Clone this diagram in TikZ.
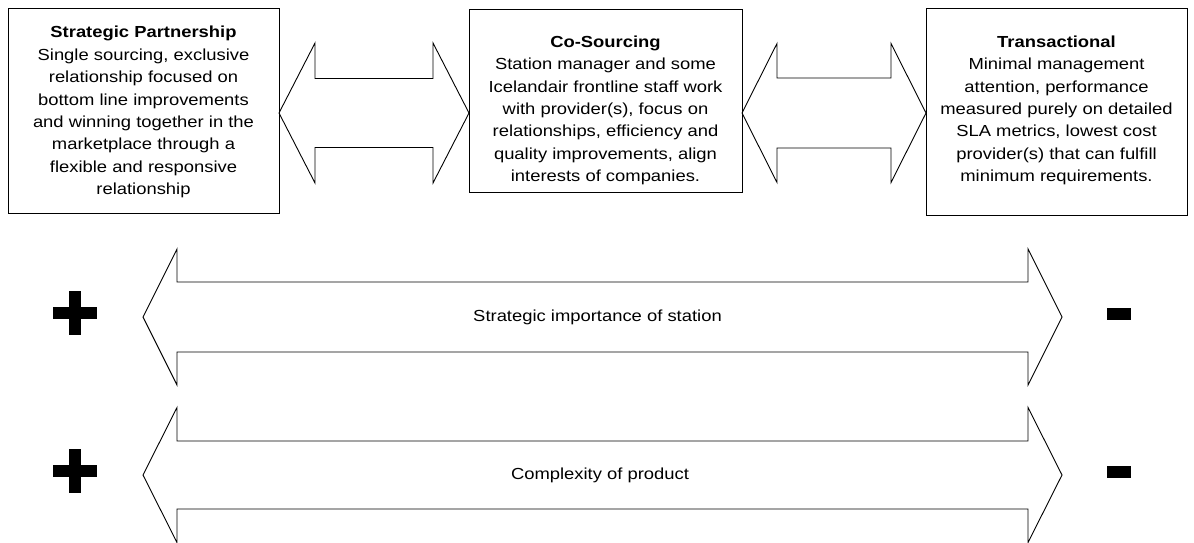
\documentclass[tikz,border=0pt]{standalone}
\usepackage{fontspec}
\setmainfont{Liberation Sans}[FakeStretch=1.15]
\usetikzlibrary{calc}
\tikzset{
  box/.style={draw=black, line width=1pt, inner sep=0pt},
  boxtext/.style={align=center, inner sep=0pt, anchor=north,
    font=\fontsize{16}{22.4}\selectfont},
  arr/.style={draw=black, line width=0.9pt, line join=miter},
  lbl/.style={font=\fontsize{16}{22}\selectfont, inner sep=0pt},
}
% x1 x2 yc h H L
\newcommand\dblarrow[6]{%
  \draw[arr] (#1,#3) -- ({#1+#6},{#3-#5}) -- ({#1+#6},{#3-#4}) -- ({#2-#6},{#3-#4})
    -- ({#2-#6},{#3-#5}) -- (#2,#3) -- ({#2-#6},{#3+#5}) -- ({#2-#6},{#3+#4})
    -- ({#1+#6},{#3+#4}) -- ({#1+#6},{#3+#5}) -- cycle;}
\newcommand\plussign[2]{%
  \fill ({#1-22},{#2-6}) rectangle ({#1+22},{#2+6});
  \fill ({#1-6},{#2-22}) rectangle ({#1+6},{#2+22});}
\begin{document}
\begin{tikzpicture}[x=1pt,y=-1pt]
\useasboundingbox (0,0) rectangle (1194,542);
\node[box, minimum width=271pt, minimum height=205pt] (b1) at (143.5,110.5) {};
\node[box, minimum width=273pt, minimum height=183pt] (b2) at (605.5,100.5) {};
\node[box, minimum width=261pt, minimum height=207pt] (b3) at (1056.5,111.5) {};
\node[boxtext] (t1) at (143.5,26)
  {\textbf{Strategic Partnership}\\Single sourcing, exclusive\\relationship focused on\\bottom line improvements\\and winning together in the\\marketplace through a\\flexible and responsive\\relationship};
\node[boxtext] (t2) at (605.5,35.5)
  {\textbf{Co-Sourcing}\\Station manager and some\\Icelandair frontline staff work\\with provider(s), focus on\\relationships, efficiency and\\quality improvements, align\\interests of companies.};
\node[boxtext] (t3) at (1056.5,35.5)
  {\textbf{Transactional}\\Minimal management\\attention, performance\\measured purely on detailed\\SLA metrics, lowest cost\\provider(s) that can fulfill\\minimum requirements.};
\dblarrow{279}{469}{113}{34.5}{70}{36}
\dblarrow{742}{926}{113}{35}{69.5}{35}
\dblarrow{143}{1062}{317}{35}{68}{34}
\dblarrow{143}{1062}{475}{34}{67.5}{34}
\node[lbl] (l1) at (597.5,317) {Strategic importance of station};
\node[lbl] (l2) at (600,475) {Complexity of product};
\plussign{75}{313}
\plussign{75}{470.5}
\fill (1107,308) rectangle (1131,320);
\fill (1107,466) rectangle (1131,478);
\end{tikzpicture}
\end{document}
